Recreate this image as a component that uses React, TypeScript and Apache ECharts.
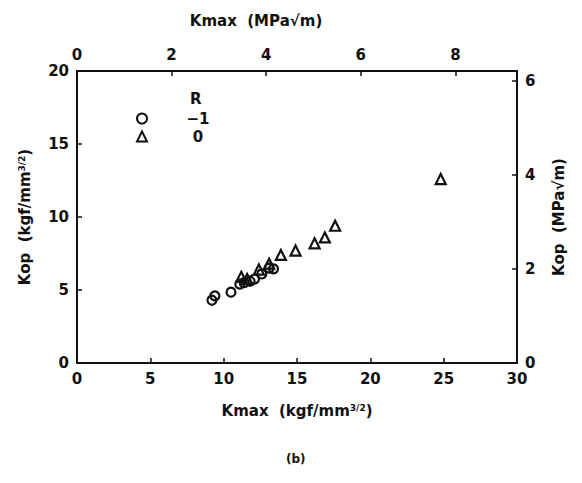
import React, { useEffect, useRef } from "react";
import * as echarts from "echarts";

// R = -1 (circles)
const kmaxR1 = [9.2, 9.4, 10.5, 11.1, 11.4, 11.8, 12.1, 12.6, 13.1, 13.4];
const kopR1 = [4.3, 4.6, 4.85, 5.4, 5.5, 5.6, 5.75, 6.1, 6.5, 6.45];
// R = 0 (triangles)
const kmaxR0 = [11.2, 11.6, 12.4, 13.1, 13.9, 14.9, 16.2, 16.9, 17.6, 24.8];
const kopR0 = [5.9, 5.75, 6.4, 6.8, 7.4, 7.7, 8.2, 8.6, 9.4, 12.6];

const seriesNames = ["\u22121", "0"];
const bottomTicks = { min: 0, max: 30, interval: 5 };
const leftTicks = { min: 0, max: 20, interval: 5 };
const CONV = 0.3101; // kgf/mm^1.5 -> MPa·m^0.5

const FONT = "DejaVu Sans";
const INK = "#111";

export default function App() {
  const ref = useRef<HTMLDivElement>(null);
  useEffect(() => {
    if (!ref.current) return;
    const chart = echarts.init(ref.current, null, { renderer: "svg" });
    const lbl = { fontFamily: FONT, fontWeight: "bold", fontSize: 15, color: INK };
    const nameRich = {
      n: { fontFamily: FONT, fontWeight: "bold", fontSize: 15, color: INK },
      s: { fontFamily: FONT, fontWeight: "bold", fontSize: 9, color: INK, padding: [0, 0, 7, 0] },
    };
    const axisLine = { show: true, onZero: false, lineStyle: { color: INK, width: 2 } };
    const axisTick = { show: true, inside: true, length: 5, lineStyle: { color: INK, width: 1.5 } };
    const evenFmt = (v: number) => (Math.abs(v / 2 - Math.round(v / 2)) < 1e-6 ? String(Math.round(v)) : "");
    const mk = (xs: number[], ys: number[]) => xs.map((x, i) => [x, ys[i]]);
    const markStyle = { color: "rgba(255,255,255,0)", borderColor: INK, borderWidth: 2.2, opacity: 1 };
    chart.setOption({
      animation: false,
      backgroundColor: "#fff",
      grid: { left: 77, right: 65, top: 71, bottom: 120 },
      legend: {
        orient: "vertical",
        left: 131,
        top: 106,
        itemWidth: 10,
        itemHeight: 10,
        itemGap: 3,
        data: seriesNames,
        formatter: (name: string) => `{a|${name}}`,
        textStyle: {
          padding: [0, 0, 0, 35],
          rich: { a: { fontFamily: FONT, fontWeight: "bold", fontSize: 15, color: INK, width: 22, align: "center" } },
        },
      },
      xAxis: [
        {
          type: "value",
          position: "bottom",
          min: bottomTicks.min,
          max: bottomTicks.max,
          interval: bottomTicks.interval,
          axisLine,
          axisTick,
          splitLine: { show: false },
          axisLabel: { ...lbl, margin: 8 },
          name: "{n|Kmax  (kgf/mm}{s|3/2}{n|)}",
          nameLocation: "middle",
          nameGap: 40,
          nameTextStyle: { rich: nameRich },
        },
        {
          type: "value",
          position: "top",
          min: 0,
          max: bottomTicks.max * CONV,
          interval: 2,
          axisLine,
          axisTick,
          splitLine: { show: false },
          axisLabel: { ...lbl, margin: 9, formatter: evenFmt },
          name: "Kmax  (MPa\u221Am)",
          nameLocation: "middle",
          nameGap: 43,
          nameTextStyle: { fontFamily: FONT, fontWeight: "bold", fontSize: 15, color: INK, padding: [0, 82, 0, 0] },
        },
      ],
      yAxis: [
        {
          type: "value",
          position: "left",
          min: leftTicks.min,
          max: leftTicks.max,
          interval: leftTicks.interval,
          axisLine,
          axisTick,
          splitLine: { show: false },
          axisLabel: { ...lbl, margin: 8 },
          name: "{n|Kop  (kgf/mm}{s|3/2}{n|)}",
          nameLocation: "middle",
          nameRotate: 90,
          nameGap: 44,
          nameTextStyle: { rich: nameRich },
        },
        {
          type: "value",
          position: "right",
          min: 0,
          max: leftTicks.max * CONV,
          interval: 2,
          axisLine,
          axisTick,
          splitLine: { show: false },
          axisLabel: { ...lbl, margin: 8, formatter: evenFmt },
          name: "Kop  (MPa\u221Am)",
          nameLocation: "middle",
          nameRotate: 90,
          nameGap: 34,
          nameTextStyle: { fontFamily: FONT, fontWeight: "bold", fontSize: 15, color: INK },
        },
      ],
      series: [
        {
          name: seriesNames[0],
          type: "scatter",
          xAxisIndex: 0,
          yAxisIndex: 0,
          symbol: "circle",
          symbolSize: 9,
          itemStyle: markStyle,
          data: mk(kmaxR1, kopR1),
        },
        {
          name: seriesNames[1],
          type: "scatter",
          xAxisIndex: 0,
          yAxisIndex: 0,
          symbol: "triangle",
          symbolSize: 10,
          itemStyle: markStyle,
          data: mk(kmaxR0, kopR0),
        },
      ],
      graphic: [
        {
          type: "text",
          left: 190,
          top: 91,
          style: { text: "R", fontFamily: FONT, fontWeight: "bold", fontSize: 15, fill: INK },
        },
        {
          type: "text",
          left: 286,
          top: 453,
          style: { text: "(b)", fontFamily: FONT, fontWeight: "bold", fontSize: 12, fill: INK },
        },
      ],
    });
    return () => chart.dispose();
  }, []);
  return (
    <div
      ref={ref}
      style={{ position: "fixed", left: 0, top: 0, width: 582, height: 483, background: "#fff" }}
    />
  );
}
